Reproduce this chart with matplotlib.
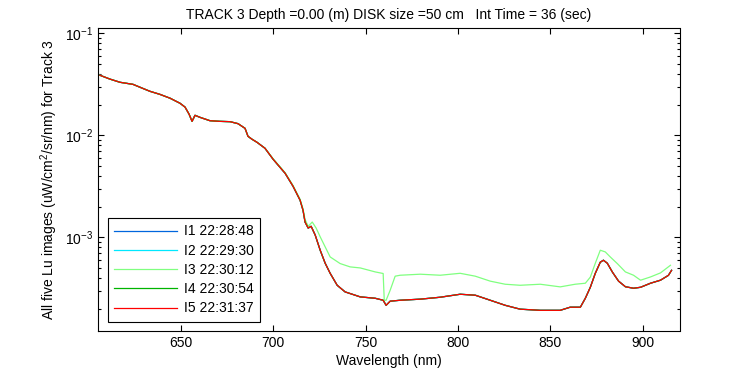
import matplotlib
matplotlib.use("Agg")
import matplotlib.pyplot as plt

plt.rcParams["font.family"] = ["Liberation Sans", "DejaVu Sans"]
plt.rcParams["mathtext.default"] = "regular"

# wavelength (nm) / Lu for the four traces that lie on top of each other (I1, I2, I4, I5)
wl_main = [606.1, 611.5, 617.0, 624.0, 627.8, 633.2, 638.6, 644.1, 649.5, 652.2,
           654.4, 656.0, 657.6, 660.3, 665.7, 671.1, 676.6, 680.9, 684.7, 686.3,
           688.5, 691.2, 695.5, 699.9, 706.4, 710.7, 714.5, 716.1, 717.2, 718.9,
           720.5, 722.7, 725.4, 728.1, 730.8, 734.6, 738.9, 747.1, 755.2, 759.5,
           761.1, 763.3, 768.7, 779.6, 790.4, 801.2, 809.4, 817.5, 825.6, 833.7,
           844.6, 855.4, 860.8, 866.3, 869.0, 871.7, 874.4, 877.1, 878.8, 880.9,
           883.7, 887.0, 890.7, 895.1, 898.9, 904.3, 909.7, 914.0, 915.7]
lu_main = [0.0388, 0.0356, 0.0331, 0.0316, 0.0296, 0.0270, 0.0252, 0.0231, 0.0206, 0.0189,
           0.0161, 0.0137, 0.0157, 0.0150, 0.0139, 0.0137, 0.0136, 0.0130, 0.0117, 0.00977,
           0.00914, 0.00853, 0.00746, 0.00582, 0.00424, 0.00316, 0.00231, 0.00184, 0.00141, 0.00123,
           0.00128, 0.00105, 0.000746, 0.000556, 0.000443, 0.000338, 0.000291, 0.000260, 0.000252, 0.000241,
           0.000215, 0.000236, 0.000241, 0.000247, 0.000258, 0.000276, 0.000270, 0.000241, 0.000215, 0.000197,
           0.000192, 0.000192, 0.000206, 0.000206, 0.000252, 0.000323, 0.000443, 0.000569, 0.000595, 0.000556,
           0.000454, 0.000371, 0.000327, 0.000316, 0.000323, 0.000354, 0.000379, 0.000423, 0.000474]

# I3 splits off from the others after ~718 nm
wl_i3 = [606.1, 611.5, 617.0, 624.0, 627.8, 633.2, 638.6, 644.1, 649.5, 652.2,
         654.4, 656.0, 657.6, 660.3, 665.7, 671.1, 676.6, 680.9, 684.7, 686.3,
         688.5, 691.2, 695.5, 699.9, 706.4, 710.7, 714.5, 716.1, 717.2, 718.9,
         721.1, 723.2, 725.4, 730.8, 736.2, 741.6, 747.1, 755.2, 759.5, 760.1,
         761.1, 763.3, 766.0, 768.7, 779.6, 790.4, 801.2, 809.4, 817.5, 825.6,
         833.7, 844.6, 855.4, 863.5, 869.0, 871.7, 874.4, 877.1, 879.8, 882.5,
         886.3, 890.7, 895.1, 898.9, 904.3, 909.7, 915.1]
lu_i3 = [0.0388, 0.0356, 0.0331, 0.0316, 0.0296, 0.0270, 0.0252, 0.0231, 0.0206, 0.0189,
         0.0161, 0.0137, 0.0157, 0.0150, 0.0139, 0.0137, 0.0136, 0.0130, 0.0117, 0.00977,
         0.00914, 0.00853, 0.00746, 0.00590, 0.00430, 0.00322, 0.00236, 0.00190, 0.00150, 0.00128,
         0.00141, 0.00123, 0.00101, 0.000641, 0.000552, 0.000512, 0.000500, 0.000457, 0.000441, 0.000241,
         0.000241, 0.000302, 0.000415, 0.000424, 0.000434, 0.000424, 0.000443, 0.000415, 0.000371, 0.000346,
         0.000338, 0.000346, 0.000326, 0.000346, 0.000354, 0.000406, 0.000556, 0.000746, 0.000718, 0.000641,
         0.000552, 0.000457, 0.000424, 0.000379, 0.000408, 0.000447, 0.000531]

labels = ["I1 22:28:48", "I2 22:29:30", "I3 22:30:12", "I4 22:30:54", "I5 22:31:37"]
colors = ["#0066dd", "#00e8ff", "#80ff80", "#00b400", "#ff0000"]
series = [(wl_main, lu_main), (wl_main, lu_main), (wl_i3, lu_i3), (wl_main, lu_main), (wl_main, lu_main)]

fig = plt.figure(figsize=(7.5, 3.75), dpi=100)
ax = fig.add_axes([0.131, 0.117, 0.775, 0.8075])

for (wl, lu), lab, col in zip(series, labels, colors):
    ax.plot(wl, lu, color=col, linewidth=0.9, label=lab)

ax.set_yscale("log")
ax.set_xlim(605.2, 920)
ax.set_ylim(1.2e-4, 0.112)
ax.set_xticks([650, 700, 750, 800, 850, 900])

ax.tick_params(which="both", direction="in", top=True, right=True, labelsize=10)
ax.tick_params(which="major", length=4, width=0.8)
ax.tick_params(which="minor", length=2.2, width=0.8)
for s in ax.spines.values():
    s.set_linewidth(0.8)

ax.set_title("TRACK 3 Depth =0.00 (m) DISK size =50 cm   Int Time = 36 (sec)", fontsize=10, pad=7)
ax.set_xlabel("Wavelength (nm)", fontsize=10, labelpad=3)
ax.set_ylabel("All five Lu images (uW/cm$^2$/sr/nm) for Track 3", fontsize=10)

leg = ax.legend(loc="lower left", bbox_to_anchor=(0.0167, 0.031), borderaxespad=0,
                fontsize=10, handlelength=4.5, handletextpad=0.5, labelspacing=0.38,
                borderpad=0.45, fancybox=False, framealpha=1, edgecolor="black")
leg.get_frame().set_linewidth(0.8)

fig.savefig("out.png", dpi=100)
